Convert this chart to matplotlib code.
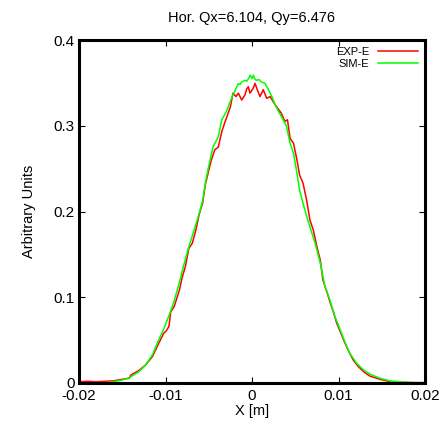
import matplotlib
matplotlib.use("Agg")
import matplotlib.pyplot as plt

plt.rcParams['font.family'] = ['Liberation Sans', 'DejaVu Sans']

title = "Hor. Qx=6.104, Qy=6.476"
xlabel = "X [m]"
ylabel = "Arbitrary Units"
xticks = [-0.02, -0.01, 0, 0.01, 0.02]
xticklabels = ["-0.02", "-0.01", "0", "0.01", "0.02"]
yticks = [0, 0.1, 0.2, 0.3, 0.4]
yticklabels = ["0", "0.1", "0.2", "0.3", "0.4"]

exp_x = [-0.0200, -0.0190, -0.0180, -0.0170, -0.0160, -0.0150, -0.0142, -0.0140, -0.0131, -0.0123,
         -0.0115, -0.0108, -0.0102, -0.0099, -0.0096, -0.0094, -0.0090, -0.0084, -0.0081, -0.0077,
         -0.0073, -0.0069, -0.0065, -0.0061, -0.0057, -0.0054, -0.0050, -0.0047, -0.0043, -0.0039,
         -0.0035, -0.0031, -0.0029, -0.0025, -0.0022, -0.00185, -0.00158, -0.00119, -0.00081, -0.00061,
         -0.00043, -0.00023, 0.00015, 0.00035, 0.00054, 0.00092, 0.0013, 0.0017, 0.0021, 0.00246,
         0.00286, 0.0030, 0.0034, 0.0038, 0.0041, 0.0044, 0.0048, 0.0052, 0.0055, 0.0059,
         0.0063, 0.0067, 0.0071, 0.0075, 0.0079, 0.0082, 0.0086, 0.0090, 0.0094, 0.0098,
         0.0102, 0.0106, 0.0111, 0.0117, 0.0123, 0.0129, 0.0136, 0.0148, 0.0160, 0.0171,
         0.0186, 0.0200]
exp_y = [0.0015, 0.0020, 0.0015, 0.0020, 0.0025, 0.0043, 0.0055, 0.0093, 0.0144, 0.0210,
         0.0310, 0.0460, 0.0580, 0.0610, 0.0660, 0.0830, 0.0890, 0.1080, 0.1220, 0.1360,
         0.1570, 0.1630, 0.1780, 0.1970, 0.2100, 0.2310, 0.2480, 0.2600, 0.2720, 0.2750,
         0.2930, 0.3050, 0.3105, 0.3220, 0.3380, 0.3340, 0.3380, 0.3300, 0.3360, 0.3430,
         0.3455, 0.3380, 0.3440, 0.3495, 0.3440, 0.3340, 0.3420, 0.3320, 0.3340, 0.3280,
         0.3220, 0.3200, 0.3145, 0.3050, 0.3070, 0.2853, 0.2795, 0.2600, 0.2426, 0.2330,
         0.2140, 0.1900, 0.1780, 0.1590, 0.1430, 0.1200, 0.1080, 0.0950, 0.0830, 0.0696,
         0.0600, 0.0500, 0.0385, 0.0268, 0.0190, 0.0132, 0.0082, 0.0043, 0.0015, 0.0010,
         0.0005, 0.0005]

sim_x = [-0.0200, -0.0180, -0.0165, -0.0150, -0.0142, -0.0131, -0.0123, -0.0115, -0.0108, -0.0102,
         -0.0096, -0.0090, -0.0084, -0.0079, -0.0073, -0.0067, -0.0061, -0.0057, -0.0054, -0.0050,
         -0.0045, -0.0039, -0.0035, -0.0029, -0.0023, -0.0020, -0.0016, -0.0014, -0.0012, -0.0010,
         -0.0008, -0.0006, -0.0004, -0.0002, 0.0000, 0.00015, 0.00035, 0.00054, 0.0008, 0.0011,
         0.0015, 0.0019, 0.0023, 0.0027, 0.0031, 0.0035, 0.0040, 0.0044, 0.0048, 0.0052,
         0.0055, 0.0059, 0.0063, 0.0067, 0.0073, 0.0079, 0.0084, 0.0090, 0.0096, 0.0102,
         0.0108, 0.0113, 0.0121, 0.0129, 0.0136, 0.0148, 0.0160, 0.0171, 0.0186, 0.0195]
sim_y = [0.0000, 0.0002, 0.0005, 0.0035, 0.0060, 0.0130, 0.0210, 0.0330, 0.0500, 0.0630,
         0.0785, 0.0955, 0.1170, 0.1370, 0.1590, 0.1780, 0.1980, 0.2130, 0.2330, 0.2530,
         0.2756, 0.2870, 0.3067, 0.3180, 0.3340, 0.3400, 0.3490, 0.3480, 0.3510, 0.3520,
         0.3530, 0.3520, 0.3550, 0.3590, 0.3550, 0.3590, 0.3540, 0.3530, 0.3540, 0.3510,
         0.3495, 0.3420, 0.3340, 0.3240, 0.3160, 0.3090, 0.2990, 0.2795, 0.2680, 0.2445,
         0.2250, 0.2096, 0.1950, 0.1820, 0.1630, 0.1396, 0.1140, 0.0970, 0.0773, 0.0620,
         0.0463, 0.0346, 0.0230, 0.0152, 0.0105, 0.0055, 0.0023, 0.0012, 0.0005, 0.0002]

fig = plt.figure(figsize=(4.46, 4.22), dpi=100)
ax = fig.add_axes([79/446, 39/422, 346/446, 343/422])

ax.plot(exp_x, exp_y, color='#ff0000', lw=1.1, label='EXP-E')
ax.plot(sim_x, sim_y, color='#00ff00', lw=1.1, label='SIM-E')

ax.set_xlim(-0.02, 0.02)
ax.set_ylim(0, 0.4)
ax.set_xticks(xticks)
ax.set_xticklabels(xticklabels)
ax.set_yticks(yticks)
ax.set_yticklabels(yticklabels)
ax.tick_params(direction='in', length=4, width=0.8, top=True, right=True,
               labelsize=11, colors='black')
ax.tick_params(axis='x', pad=4)
ax.tick_params(axis='y', pad=3)
for s in ax.spines.values():
    s.set_linewidth(2.2)

ax.set_title(title, fontsize=10.5, pad=13)
ax.set_xlabel(xlabel, fontsize=10.5, labelpad=1)
ax.set_ylabel(ylabel, fontsize=10.5, labelpad=13)

leg = ax.legend(loc='upper right', frameon=False, markerfirst=False, fontsize=8,
                handlelength=3.6, handletextpad=0.8, labelspacing=0.2,
                borderaxespad=0.3, borderpad=0.3)

fig.savefig('out.png', dpi=100)
